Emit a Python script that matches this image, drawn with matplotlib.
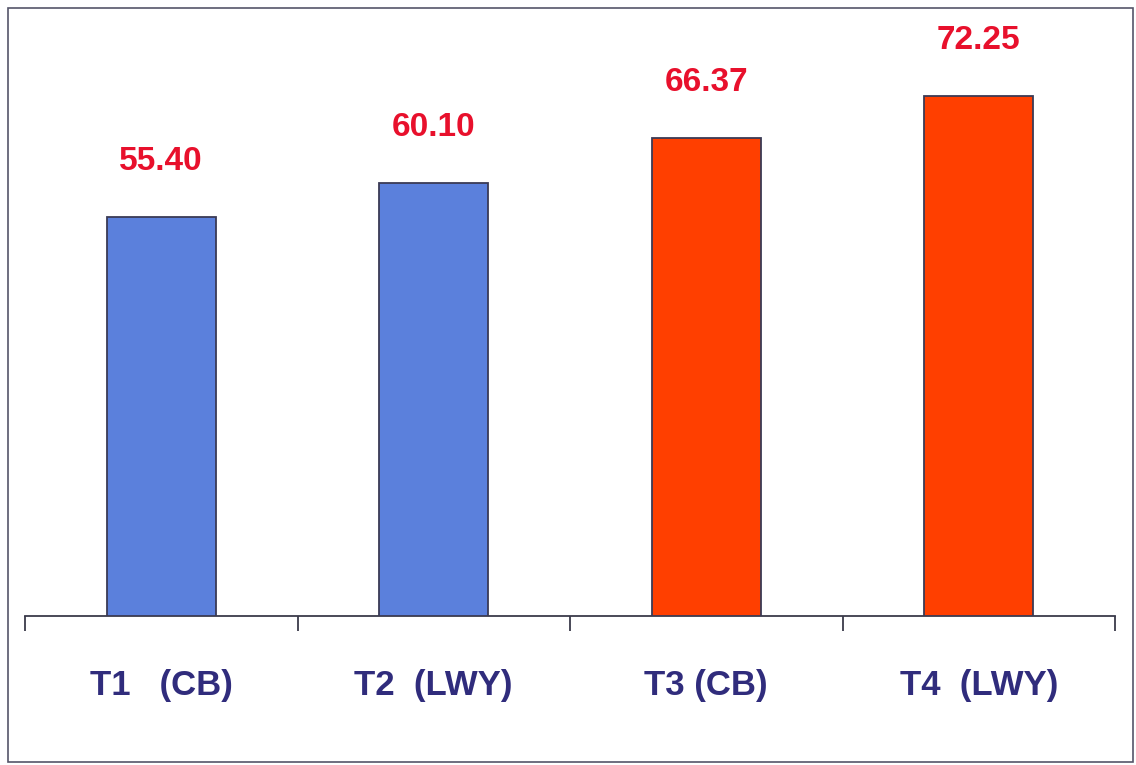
import numpy as np
import matplotlib.pyplot as plt
from matplotlib.patches import Rectangle

treatments = ["T1   (CB)", "T2  (LWY)", "T3 (CB)", "T4  (LWY)"]
values = [55.40, 60.10, 66.37, 72.25]
bar_colours = ["#5b80dc", "#5b80dc", "#ff3f00", "#ff3f00"]

W, H = 1136, 765
fig = plt.figure(figsize=(W / 100, H / 100), dpi=100)
fig.patch.set_facecolor("white")

# outer frame of the chart
fig.patches.append(Rectangle((8 / W, 3 / H), 1125 / W, 754 / H, transform=fig.transFigure,
                             fill=False, edgecolor="#55556a", linewidth=1.2))

ax = fig.add_axes([25 / W, 149 / H, 1090 / W, 576 / H])
x = np.arange(len(values))
ax.bar(x, values, width=0.40, color=bar_colours, edgecolor="#3a3a55", linewidth=1.3, zorder=3)

ax.set_xlim(-0.5, len(values) - 0.5)
ax.set_ylim(0, 80)

for xi, v in zip(x, values):
    ax.annotate(f"{v:.2f}", (xi, v), xytext=(0, 40), textcoords="offset points",
                ha="center", va="center", color="#e8102c", fontsize=24,
                fontweight="bold", family=["Liberation Sans Narrow", "Liberation Sans"])

for s in ["top", "right", "left"]:
    ax.spines[s].set_visible(False)
ax.spines["bottom"].set_color("#3a3a4a")
ax.spines["bottom"].set_linewidth(1.3)
ax.set_yticks([])

# category boundaries carry the tick marks, labels sit under the bars
ax.set_xticks(np.arange(-0.5, len(values), 1.0))
ax.set_xticklabels([])
ax.tick_params(axis="x", which="major", direction="out", length=11, width=1.3, color="#3a3a4a")
ax.set_xticks(x, minor=True)
ax.set_xticklabels(treatments, minor=True, fontsize=25, fontweight="bold", color="#302c7c",
                   family=["Liberation Sans Narrow", "Liberation Sans"])
ax.tick_params(axis="x", which="minor", length=0, pad=38)

fig.savefig("out.png", dpi=100, facecolor="white")
